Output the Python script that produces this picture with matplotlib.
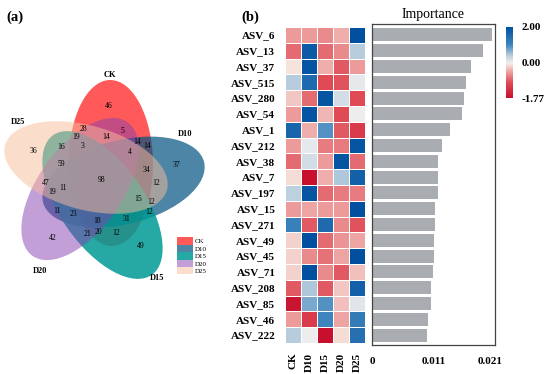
import matplotlib.pyplot as plt
from matplotlib.patches import Ellipse, Patch
from matplotlib.colors import LinearSegmentedColormap, TwoSlopeNorm
import numpy as np

plt.rcParams['font.family'] = ['Liberation Serif', 'DejaVu Serif']

# ---- data ----
set_names = ['CK', 'D10', 'D15', 'D20', 'D25']
venn_counts = [46, 28, 5, 19, 14, 14, 14, 36, 16, 3, 4, 37, 59, 34, 98, 12,
               47, 11, 19, 15, 12, 11, 23, 12, 18, 31, 21, 20, 12, 42, 49]

asv_names = ['ASV_6', 'ASV_13', 'ASV_37', 'ASV_515', 'ASV_280', 'ASV_54', 'ASV_1',
             'ASV_212', 'ASV_38', 'ASV_7', 'ASV_197', 'ASV_15', 'ASV_271', 'ASV_49',
             'ASV_45', 'ASV_71', 'ASV_208', 'ASV_85', 'ASV_46', 'ASV_222']
importance = [0.0213, 0.0197, 0.0176, 0.0167, 0.0163, 0.0160, 0.0139, 0.0124, 0.0118, 0.0117,
              0.0117, 0.0112, 0.0112, 0.0110, 0.0110, 0.0108, 0.0105, 0.0105, 0.0099, 0.0098]
# z-scores, columns CK, D10, D15, D20, D25
heat_values = [
    [-0.50, -0.50, -0.60, -0.40, 2.00],
    [-0.80, 1.80, -0.80, -0.60, 0.40],
    [-0.10, 1.90, -0.40, -0.90, -0.50],
    [0.40, 1.50, -1.00, -0.95, 0.05],
    [-0.25, -0.80, 1.90, 0.20, -1.00],
    [-0.50, 1.90, -0.35, -1.00, 0.00],
    [1.60, -0.40, 0.90, -0.90, -1.20],
    [-0.50, 0.05, -0.70, -0.70, 1.90],
    [-0.80, 0.20, -0.50, 1.90, -0.80],
    [-0.15, -1.77, -0.40, 0.45, 1.70],
    [0.35, 1.90, -0.80, -0.70, -0.70],
    [-0.50, -0.45, -0.50, -0.50, 2.00],
    [1.10, -0.90, 1.50, -0.60, -0.95],
    [-0.20, 2.00, -0.80, -0.55, -0.45],
    [-0.20, -0.60, -0.75, -0.45, 2.00],
    [-0.20, 2.00, -0.60, -0.90, -0.30],
    [-0.90, 0.45, -0.90, -0.25, 1.70],
    [-1.70, 0.70, 0.90, -0.30, 0.10],
    [-0.50, -1.20, 1.00, -0.45, 1.20],
    [0.40, 0.00, -1.77, -0.15, 1.40],
]

# ---- layout / style ----
venn_colors = ['#FF0000', '#00527F', '#009A94', '#8741AF', '#F9BD9B']
venn_alpha = [0.65, 0.7, 0.85, 0.5, 0.5]
# ellipse centre, length, thickness, angle (pixel coordinates of the left panel)
venn_shapes = [((111, 163), 166, 84, 89.3),
               ((123.5, 182), 166, 84, -14),
               ((102.5, 205), 171, 84, 54.7),
               ((80, 189), 164, 84, -54.5),
               ((86, 167.5), 168, 84, 15.5)]
set_label_xy = [(110, 75), (185, 134), (157, 278), (40, 271), (18, 122)]
count_xy = [(109, 106), (83, 129), (122, 131), (76, 137), (106, 137), (137, 142), (147, 146),
            (33, 151), (61, 147), (83, 146), (130, 152), (176, 165), (61, 164), (146, 170),
            (102, 180), (156, 183), (46, 183), (63, 188), (52, 192), (138, 199), (151, 202),
            (57, 211), (73, 214), (149, 212), (97, 221), (126, 219), (87, 234), (98, 232),
            (116, 233), (53, 238), (141, 246)]

W, H = 550, 374
fig = plt.figure(figsize=(W / 100, H / 100), dpi=100)

# (a) venn
ax = fig.add_axes([0, 0, 240 / W, 1])
ax.set_xlim(0, 240)
ax.set_ylim(H, 0)
ax.axis('off')
for (c, w, h, a), col, al in zip(venn_shapes, venn_colors, venn_alpha):
    ax.add_patch(Ellipse(c, w, h, angle=a, facecolor=col, alpha=al, lw=0))
for name, (x, y) in zip(set_names, set_label_xy):
    ax.text(x, y, name, fontsize=6, fontweight='bold', ha='center', va='center')
for n, (x, y) in zip(venn_counts, count_xy):
    ax.text(x, y, str(n), fontsize=5.5, ha='center', va='center')
handles = [Patch(facecolor=c, alpha=al, lw=0) for c, al in zip(venn_colors, venn_alpha)]
ax.legend(handles, set_names, loc='upper left', bbox_to_anchor=(174 / 240, 1 - 234 / H),
          frameon=False, fontsize=5, handlelength=2.2, handleheight=1.2,
          labelspacing=0.05, handletextpad=0.3, borderpad=0)
fig.text(15 / W, 1 - 17 / H, '(a)', fontsize=10.5, fontweight='bold', ha='center', va='center')
fig.text(250 / W, 1 - 17 / H, '(b)', fontsize=10.5, fontweight='bold', ha='center', va='center')

# (b) heatmap
cmap = LinearSegmentedColormap.from_list('rb', [
    (0.0, '#C8102E'), (0.2175, '#DF4A55'), (0.36, '#EC9C9C'), (0.472, '#F6E4DC'),
    (0.5, '#EEEEEE'), (0.6, '#B7CCDD'), (0.75, '#3F86BD'), (1.0, '#00509F')])
norm = TwoSlopeNorm(vmin=-1.77, vcenter=0, vmax=2.0)
axh = fig.add_axes([285 / W, 1 - 343 / H, 80 / W, 316 / H])
mesh = axh.pcolormesh(np.array(heat_values), cmap=cmap, norm=norm,
                      edgecolors='white', linewidth=0.6)
axh.set_ylim(len(asv_names), 0)
axh.set_xticks(np.arange(5) + 0.5)
axh.set_xticklabels(set_names, rotation=90, fontsize=8, fontweight='bold')
axh.set_yticks(np.arange(len(asv_names)) + 0.5)
axh.set_yticklabels(asv_names, fontsize=8, fontweight='bold')
axh.tick_params(length=0, pad=7)
for s in axh.spines.values():
    s.set_visible(False)

# importance bars
axb = fig.add_axes([372 / W, 1 - 345 / H, 123 / W, 321 / H])
axb.barh(np.arange(len(asv_names)), importance, height=0.82, color='#A9ACB0')
axb.set_ylim(19.63, -0.69)
axb.set_xlim(0, 0.0219)
axb.set_yticks([])
axb.set_xticks([0, 0.011, 0.021])
axb.set_xticklabels(['0', '0.011', '0.021'], fontsize=8, fontweight='bold')
axb.tick_params(axis='x', length=0, pad=9)
for s in axb.spines.values():
    s.set_color('#444444')
    s.set_linewidth(0.9)
axb.set_title('Importance', fontsize=10, pad=4)

# colorbar
axc = fig.add_axes([506 / W, 1 - 98 / H, 7 / W, 71 / H])
cb = fig.colorbar(mesh, cax=axc, ticks=[-1.77, 0, 2.0])
cb.ax.set_yticklabels(['-1.77', '0.00', '2.00'], fontsize=8, fontweight='bold')
cb.ax.tick_params(length=0, pad=6)
cb.outline.set_visible(False)

fig.savefig('out.png', dpi=100)
